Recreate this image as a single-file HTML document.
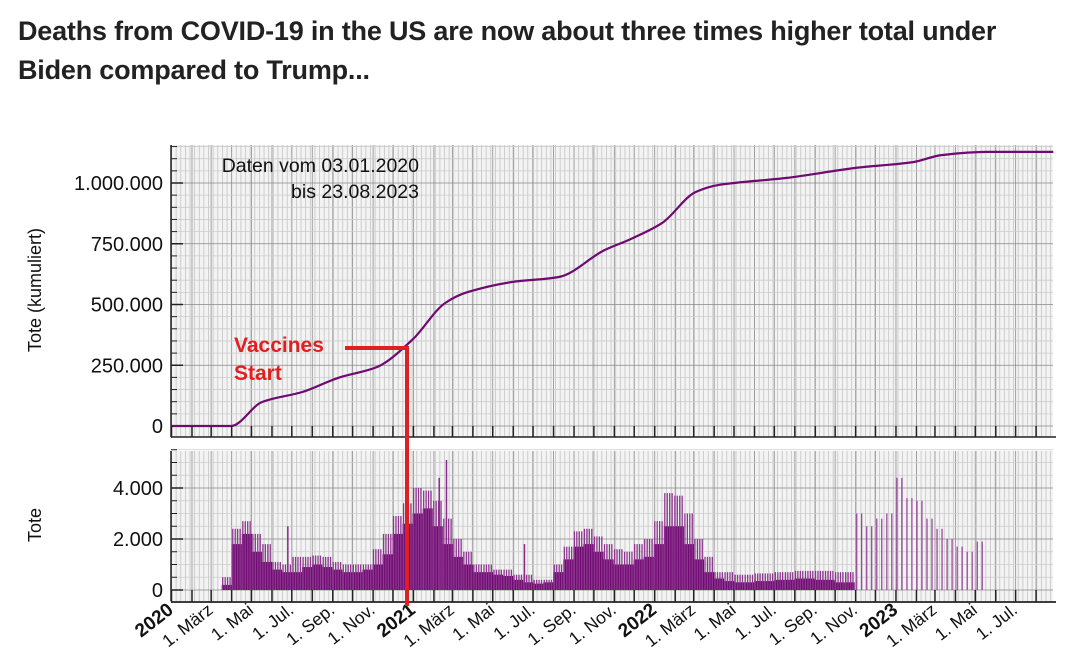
<!DOCTYPE html>
<html><head><meta charset="utf-8">
<style>
body{margin:0;background:#fff;width:1070px;height:661px;overflow:hidden;font-family:"Liberation Sans",sans-serif}
h1{position:absolute;left:18px;top:12px;margin:0;font-size:27px;line-height:39px;font-weight:bold;color:#222;white-space:nowrap;letter-spacing:-0.2px}
svg{position:absolute;left:0;top:0}
</style></head><body>
<h1>Deaths from COVID-19 in the US are now about three times higher total under<br>Biden compared to Trump...</h1>
<svg id="c" width="1070" height="661"></svg>
<script>
// cumulative deaths: day since 2020-01-01 and value
const cumDays=[0,90,137,198,252,311,364,414,448,516,586,655,691,742,793,828,931,1035,1122,1165,1234,1334];
const cumValues=[0,0,98800,140000,198000,243000,354000,506000,551000,593000,613000,724000,765000,835000,963000,992000,1021000,1062000,1086000,1115000,1128000,1128000];
// daily deaths, half-month bins starting Jan 2020: base level and weekly peaks
const dailyBase=[0,0,0,0,0,200,1800,2200,1500,1100,800,700,700,900,1000,900,800,700,700,800,1000,1400,2200,2600,
3000,3200,2500,1800,1300,1000,700,700,600,550,400,300,250,300,700,1200,1700,1800,1500,1200,1000,1000,1200,1300,
1800,2500,2500,1800,1200,700,450,350,300,300,350,350,400,400,450,450,400,400,300,300,0,0,0,0,
0,0,0,0,0,0,0,0,0,0];
const dailyPeak=[0,0,0,0,0,500,2400,2700,2200,1800,1100,1000,1300,1300,1350,1300,1100,1000,1000,1000,1600,2200,2900,3400,
4000,3900,3500,2800,2000,1500,1000,1000,800,800,600,600,400,400,1000,1700,2300,2400,2100,1800,1600,1500,1800,2000,
2700,3800,3700,3000,2000,1300,700,700,600,600,650,650,700,700,750,750,750,750,700,700,3000,2500,2800,3000,
4400,3600,3500,2800,2400,2000,1700,1500,1900,0];
const spikeDays=[176,405,416,534];
const spikeVals=[2500,4400,5100,1800];
const yTopTicks=[0,250000,500000,750000,1000000];
const yBotTicks=[0,2000,4000];
const monthLabels={2:"1. März",4:"1. Mai",6:"1. Jul.",8:"1. Sep.",10:"1. Nov."};

const NS="http://www.w3.org/2000/svg",svg=document.getElementById('c');
const X0=171.5,X1=1053,PX=0.661;
const d0=Date.UTC(2020,0,1);
function mday(m){const y=2020+Math.floor(m/12),mm=Math.floor(m%12),fr=m-Math.floor(m);
 const a=Date.UTC(y,mm,1),b=Date.UTC(y,mm+1,1);return (a-d0)/864e5+fr*(b-a)/864e5;}
const x=d=>X0+d*PX;
const yT=v=>426-v*243/1e6;
const yB=v=>590-v*25.5/1000;
function el(t,a,p){const e=document.createElementNS(NS,t);for(const k in a)e.setAttribute(k,a[k]);(p||svg).appendChild(e);return e;}
function txt(s,a){const e=el('text',a);e.textContent=s;return e;}
const panels=[[145,437],[451,601]];
panels.forEach((p,i)=>{
 const g=el('g',{});
 
 
 el('rect',{x:171,y:p[0],width:X1-171,height:p[1]-p[0],fill:'#f3f3f3'},g);
 for(let d=0;x(d)<X1;d+=7) el('line',{x1:x(d),x2:x(d),y1:p[0],y2:p[1],stroke:'#c4c4c4','stroke-width':0.8},g);
 for(let m=0;x(mday(m))<X1;m++) el('line',{x1:x(mday(m)),x2:x(mday(m)),y1:p[0],y2:p[1],stroke:'#999','stroke-width':0.9},g);
 if(i==0){for(let v=0;v<=1150000;v+=50000)el('line',{x1:171,x2:X1,y1:yT(v),y2:yT(v),stroke:v%250000?'#ccc':'#888','stroke-width':0.8},g);}
 else{for(let v=0;v<=5500;v+=500)el('line',{x1:171,x2:X1,y1:yB(v),y2:yB(v),stroke:v%2000?'#ccc':'#888','stroke-width':0.8},g);}
 el('line',{x1:171,x2:171,y1:p[0],y2:p[1],stroke:'#222','stroke-width':1.5},g);
});
yTopTicks.forEach(v=>{el('line',{x1:171,x2:183,y1:yT(v),y2:yT(v),stroke:'#222','stroke-width':1.5});
 const t=txt(v.toLocaleString('de-DE'),{x:163,y:yT(v)+7,'text-anchor':'end','font-size':20,fill:'#111'});
 });
for(let v=0;v<=1150000;v+=50000)el('line',{x1:171,x2:177,y1:yT(v),y2:yT(v),stroke:'#222'});
yBotTicks.forEach(v=>{el('line',{x1:171,x2:183,y1:yB(v),y2:yB(v),stroke:'#222','stroke-width':1.5});
 const t=txt(v.toLocaleString('de-DE'),{x:163,y:yB(v)+7,'text-anchor':'end','font-size':20,fill:'#111'});
 });
for(let v=0;v<=5500;v+=500)el('line',{x1:171,x2:177,y1:yB(v),y2:yB(v),stroke:'#222'});
// daily bars
const BIN=15.2,bw=BIN*PX;
dailyBase.forEach((v,i)=>{const d=i*BIN;
 if(v>0){const r=el('rect',{x:x(d),y:yB(v),width:bw,height:590-yB(v),fill:'#6e0a70'});
  }
 const pk=dailyPeak[i];
 if(pk>0){const n=v>0?4:2;for(let k=0;k<n;k++){const dd=v>0?d+1.5+k*3.7:d+3+k*7.5;
  const l=el('line',{x1:x(dd),x2:x(dd),y1:590,y2:yB(pk),stroke:v>0?'#8e3590':'#9a4a9c','stroke-width':1.3});
  }}
});
spikeDays.forEach((d,i)=>{const l=el('line',{x1:x(d),x2:x(d),y1:590,y2:yB(spikeVals[i]),stroke:'#8a2a8c','stroke-width':1.5});
 });
// cumulative line (monotone cubic)
const P=cumDays.map((d,i)=>[x(d),yT(cumValues[i])]);
const n=P.length,sl=[],tg=[];
for(let i=0;i<n-1;i++)sl.push((P[i+1][1]-P[i][1])/(P[i+1][0]-P[i][0]));
for(let i=0;i<n;i++){if(i==0)tg.push(sl[0]);else if(i==n-1)tg.push(sl[n-2]);
 else tg.push(sl[i-1]*sl[i]<=0?0:2/(1/sl[i-1]+1/sl[i]));}
let dpath='M'+P[0][0]+','+P[0][1];
for(let i=0;i<n-1;i++){const h=(P[i+1][0]-P[i][0])/3;
 dpath+=` C${(P[i][0]+h).toFixed(1)},${(P[i][1]+tg[i]*h).toFixed(1)} ${(P[i+1][0]-h).toFixed(1)},${(P[i+1][1]-tg[i+1]*h).toFixed(1)} ${P[i+1][0].toFixed(1)},${P[i+1][1].toFixed(1)}`;}
const pl=el('path',{d:dpath,fill:'none',stroke:'#6e0a70','stroke-width':2.2,'stroke-linejoin':'round'});

// x axis
el('line',{x1:171,x2:1056,y1:602,y2:602,stroke:'#222','stroke-width':1.8});
el('line',{x1:171,x2:1056,y1:437,y2:437,stroke:'#222','stroke-width':1.5});
for(let m=0;x(mday(m))<X1;m++){const xx=x(mday(m));
 el('line',{x1:xx,x2:xx,y1:590,y2:602,stroke:'#222','stroke-width':1.5});
 el('line',{x1:xx,x2:xx,y1:426,y2:437,stroke:'#222','stroke-width':1.5});
 const mm=m%12;let s,b=false;
 if(mm==0){s=String(2020+m/12);b=true;}else if(monthLabels[mm])s=monthLabels[mm];else continue;
 const t=txt(s,{x:xx+3,y:612,'text-anchor':'end','font-size':b?19:17.5,'font-weight':b?'bold':'normal',fill:'#111',transform:`rotate(-38 ${xx+3} 612)`});
 }
let t=txt('Tote (kumuliert)',{x:41,y:290,'text-anchor':'middle','font-size':18,fill:'#111',transform:'rotate(-90 41 290)'});

t=txt('Tote',{x:41,y:525,'text-anchor':'middle','font-size':18,fill:'#111',transform:'rotate(-90 41 525)'});

t=txt('Daten vom 03.01.2020',{x:419,y:172,'text-anchor':'end','font-size':19.5,fill:'#111'});

t=txt('bis 23.08.2023',{x:419,y:198,'text-anchor':'end','font-size':19.5,fill:'#111'});

const xv=407;
el('polyline',{points:`345,348 ${xv},348 ${xv},606`,fill:'none',stroke:'#e02020','stroke-width':4});
t=txt('Vaccines',{x:234,y:352,'font-size':21,'font-weight':'bold',fill:'#e02020'});

t=txt('Start',{x:234,y:380,'font-size':21,'font-weight':'bold',fill:'#e02020'});

</script>
</body></html>
